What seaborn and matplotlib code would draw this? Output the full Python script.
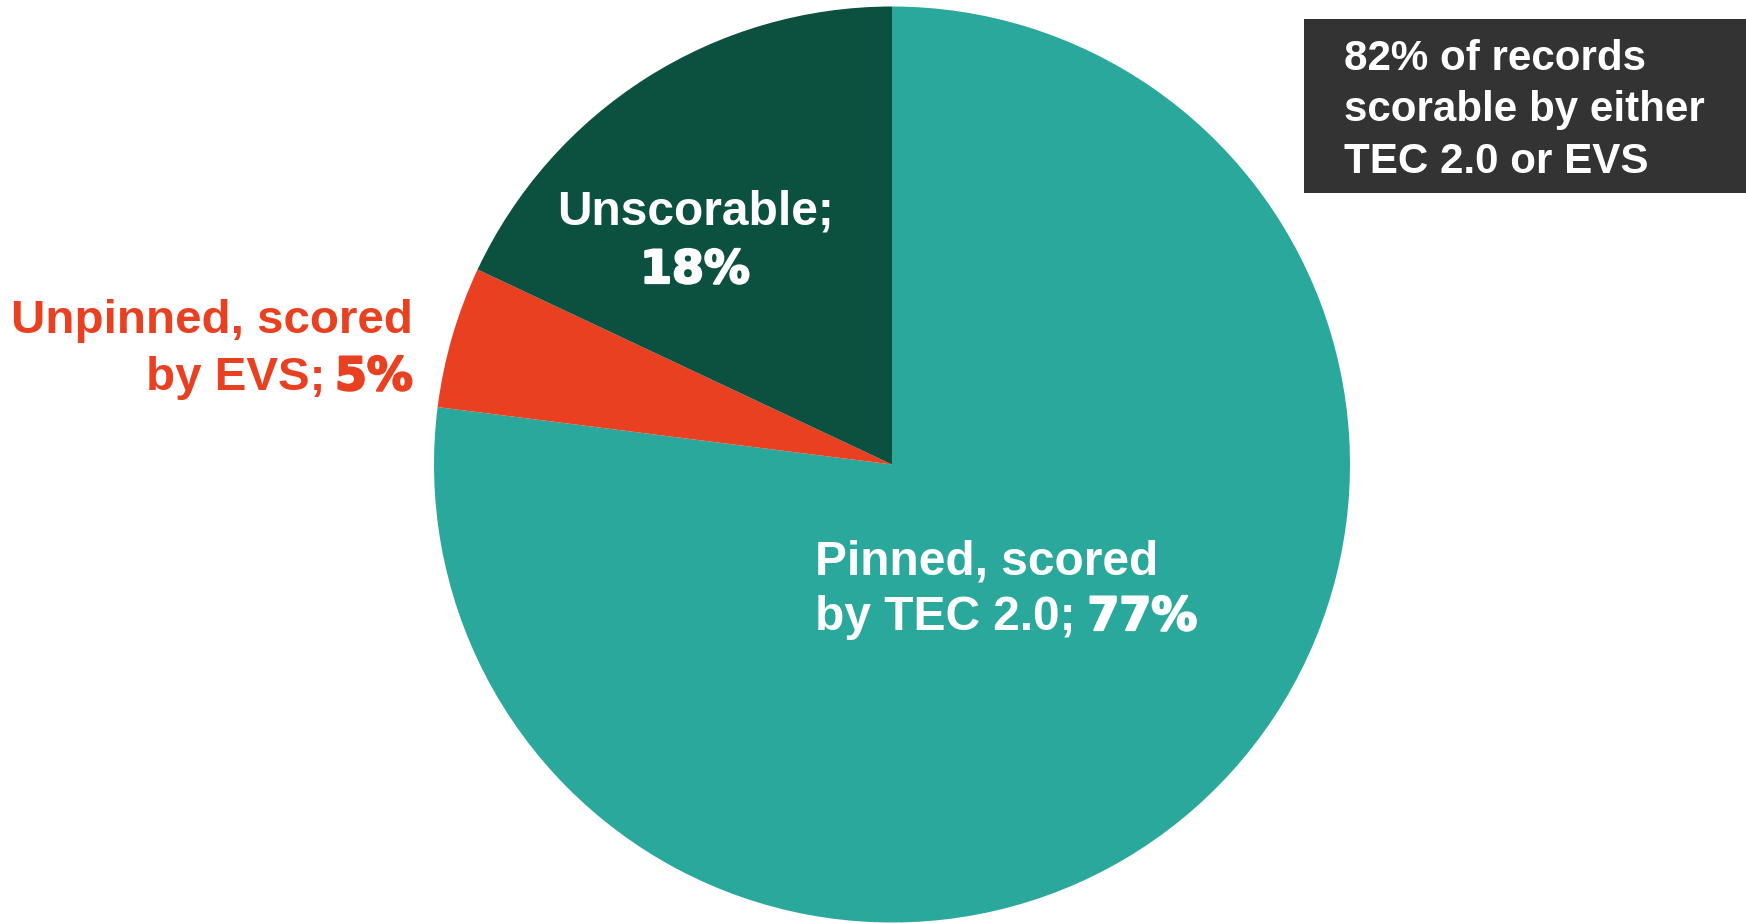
import matplotlib
matplotlib.use("Agg")
import matplotlib.pyplot as plt
import matplotlib.patheffects as pe
import seaborn as sns

# Share of records by scoring outcome
categories = ["Pinned, scored\nby TEC 2.0", "Unpinned, scored\nby EVS", "Unscorable"]
shares = [77, 5, 18]
colors = ["#2AA89B", "#E84020", "#0C5040"]
callout = "82% of records\nscorable by either\nTEC 2.0 or EVS"

sns.set_theme(style="white")
plt.rcParams["font.family"] = ["Liberation Sans", "DejaVu Sans"]

W, H = 1746, 923
fig = plt.figure(figsize=(W / 100, H / 100), dpi=100)
fig.patch.set_facecolor("white")


def fx(x):
    return x / W


def fy(y):
    return 1 - y / H


cx, cy, r = 892, 464.5, 458
ax = fig.add_axes([fx(cx - r), fy(cy + r), 2 * r / W, 2 * r / H])
ax.pie(shares, colors=colors, startangle=90, counterclock=False,
       radius=1, wedgeprops=dict(linewidth=0))
ax.set_xlim(-1, 1)
ax.set_ylim(-1, 1)
ax.set_aspect("equal")
ax.axis("off")

bold = dict(fontweight="bold", family=["Liberation Sans"])


def heavy(color):
    return dict(fontweight="bold", family=["DejaVu Sans"],
                path_effects=[pe.withStroke(linewidth=1.6, foreground=color)])


# Unscorable slice label
fig.text(fx(695), fy(225), "Unscorable;", color="white", fontsize=34.5,
         ha="center", va="baseline", **bold)
fig.text(fx(695), fy(283), f"{shares[2]}%", color="white", fontsize=33,
         ha="center", va="baseline", **heavy("white"))

# Unpinned slice label (outside, left)
fig.text(fx(413), fy(333), "Unpinned, scored", color=colors[1], fontsize=34.2,
         ha="right", va="baseline", **bold)
t5 = fig.text(fx(413), fy(390), f"{shares[1]}%", color=colors[1], fontsize=33,
              ha="right", va="baseline", **heavy(colors[1]))
fig.canvas.draw()
bb = t5.get_window_extent()
fig.text(bb.x0 / W - 10 / W, fy(390), "by EVS;", color=colors[1], fontsize=34.2,
         ha="right", va="baseline", **bold)

# Pinned slice label
fig.text(fx(815), fy(575), "Pinned, scored", color="white", fontsize=34.5,
         ha="left", va="baseline", **bold)
t_by = fig.text(fx(815), fy(630), "by TEC 2.0;", color="white", fontsize=34.5,
                ha="left", va="baseline", **bold)
fig.canvas.draw()
bb = t_by.get_window_extent()
fig.text(bb.x1 / W + 12 / W, fy(630), f"{shares[0]}%", color="white", fontsize=33,
         ha="left", va="baseline", **heavy("white"))

# Callout box
fig.patches.append(plt.Rectangle((fx(1304), fy(193)), (W - 1304) / W, 174 / H,
                                 transform=fig.transFigure, facecolor="#333333",
                                 edgecolor="none", zorder=0))
for i, line in enumerate(callout.split("\n")):
    fig.text(fx(1344), fy(70 + 51.5 * i), line, color="white", fontsize=30.3,
             ha="left", va="baseline", **bold)

fig.savefig("out.png", dpi=100, facecolor="white")
